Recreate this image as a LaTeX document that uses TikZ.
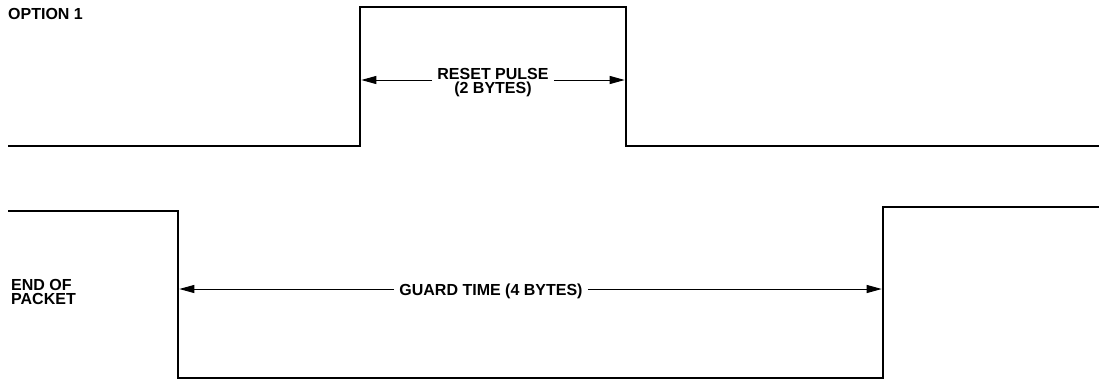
\documentclass[tikz,border=0pt]{standalone}
\usepackage{fontspec}
\setmainfont{Liberation Sans}
\usetikzlibrary{positioning, arrows.meta}

\begin{document}
\begin{tikzpicture}[
    x=1pt, y=-1pt,
    wave/.style={line width=2.6pt, line join=miter},
    dimarrow/.style={-{Triangle[length=15pt, width=8pt]}, line width=1pt},
    label/.style={font=\fontsize{16}{14}\selectfont\bfseries, inner sep=0pt},
    midlabel/.style={label, fill=white, inner xsep=5pt, align=center}
]
\useasboundingbox (0,0) rectangle (1099,381);

% Top waveform (option 1)
\draw[wave] (8,146) -- (360,146) -- (360,7) -- (626,7) -- (626,146) -- (1099,146);

% Bottom waveform (end of packet)
\draw[wave] (8,211) -- (178,211) -- (178,378) -- (883,378) -- (883,207) -- (1099,207);

% Pulse edges
\coordinate (rstL) at (361.3,80);
\coordinate (rstR) at (624.7,80);
\coordinate (grdL) at (179.3,289);
\coordinate (grdR) at (881.7,289);

% Side labels
\node[label, anchor=base west] (opt) at (8,19) {OPTION 1};
\node[label, anchor=base west, align=left] (eop) at (11,304.5) {END OF\\PACKET};

% Reset pulse
\node[midlabel, anchor=base] (rstlbl) at (493,93) {RESET PULSE\\(2 BYTES)};
\draw[dimarrow] (rstlbl.west |- rstL) -- (rstL);
\draw[dimarrow] (rstlbl.east |- rstR) -- (rstR);

% Guard time
\node[midlabel, anchor=base] (grdlbl) at (491,295) {GUARD TIME (4 BYTES)};
\draw[dimarrow] (grdlbl.west |- grdL) -- (grdL);
\draw[dimarrow] (grdlbl.east |- grdR) -- (grdR);

\end{tikzpicture}
\end{document}
